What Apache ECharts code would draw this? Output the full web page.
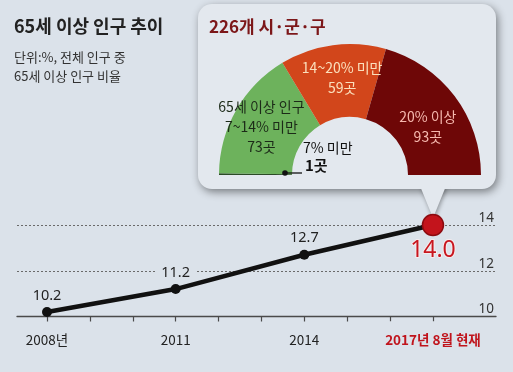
<!DOCTYPE html>
<html><head><meta charset="utf-8">
<script src="https://cdn.jsdelivr.net/npm/echarts@6/dist/echarts.min.js"></script>
<style>html,body{margin:0;padding:0;background:#dbe2ea}#c{width:513px;height:372px}</style>
</head><body><div id="c"></div>
<script>
// ---- data ----
const years = [2008, 2011, 2014, 2017];
const yearLabels = ['2008년', '2011', '2014', '2017년 8월 현재'];
const ratio = [10.2, 11.2, 12.7, 14.0];
const yTicks = [10, 12, 14];
const tickYears = [2008, 2009, 2010, 2011, 2012, 2013, 2014, 2015, 2016, 2017];
const regionNames = ['7% 미만', '65세 이상 인구\n7~14% 미만', '14~20% 미만', '20% 이상'];
const regionCounts = [1, 73, 59, 93];
const regionTitle = '226개 시·군·구';
const titleText = '65세 이상 인구 추이';
const subText = '단위:%, 전체 인구 중\n65세 이상 인구 비율';

// ---- styles ----
const BG = '#dbe2ea';
const BOX = '#e3e8ee';
const FONT = '"Noto Sans CJK KR", "Noto Sans", sans-serif';
const regionColors = ['#2b4a26', '#6db25c', '#d2461b', '#6e0707'];
const regionLabelColors = ['#111', '#1c2a18', '#fbe0bd', '#f6b8ae'];
const regionLabelShift = [[0, 0], [-4, 0], [5, -1], [0, 10]];

const chart = echarts.init(document.getElementById('c'), null, {renderer: 'canvas'});

const lineData = years.map((y, i) => {
  const item = {value: [y, ratio[i]]};
  if (i === years.length - 1) {
    item.symbolSize = 21;
    item.itemStyle = {color: '#c3141c', borderColor: '#8c0a0f', borderWidth: 1.5};
    item.label = {position: 'bottom', distance: 3, fontSize: 23, color: '#c8161e',
      fontFamily: '"Noto Sans", "DejaVu Sans", sans-serif',
      textBorderColor: 'rgba(255,240,240,0.7)', textBorderWidth: 2};
  }
  if (i === 1) {
    item.label = {backgroundColor: BG, padding: [0, 5, 0, 5]};
  }
  return item;
});

const pieData = regionNames.map((n, i) => {
  const it = {name: n, value: regionCounts[i], itemStyle: {color: regionColors[i]},
    label: {color: regionLabelColors[i]}};
  if (i === 0) it.label.show = false;
  return it;
});

const option = {
  backgroundColor: BG,
  animation: false,
  textStyle: {fontFamily: FONT},
  grid: {left: 17, right: 17, top: 225, bottom: 55.5, containLabel: false},
  xAxis: {
    type: 'value', min: 2007.3, max: 2018.47, z: 1.5,
    axisLine: {show: true, lineStyle: {color: '#4a4a4a', width: 1.3}},
    axisTick: {show: true, customValues: tickYears, length: 5, lineStyle: {color: '#4a4a4a', width: 1.2}},
    splitLine: {show: false},
    axisLabel: {
      customValues: years, margin: 5,
      formatter: v => {
        const i = years.indexOf(v);
        return i === years.length - 1 ? '{r|' + yearLabels[i] + '}' : '{p|' + yearLabels[i] + '}';
      },
      rich: {
        p: {fontSize: 13.5, color: '#222', fontFamily: FONT, padding: [12, 0, 10, 0]},
        r: {fontSize: 13.5, color: '#c0141c', fontWeight: 'bold', fontFamily: FONT,
            backgroundColor: BG, padding: [12, 3, 10, 3]}
      }
    }
  },
  yAxis: {
    type: 'value', position: 'right', min: 10, max: 14, interval: 2,
    axisLine: {show: false}, axisTick: {show: false},
    axisLabel: {inside: true, margin: 2, verticalAlign: 'bottom', color: '#333', fontSize: 13.5,
      padding: [0, 0, 0, 0], fontFamily: '"Noto Sans", sans-serif',
      formatter: v => yTicks.includes(v) ? String(v) : ''},
    splitLine: {show: true, lineStyle: {color: '#6a6a6a', type: [2, 2], width: 1}}
  },
  series: [
    {
      type: 'line', data: lineData, clip: false, z: 2,
      symbol: 'circle', symbolSize: 10,
      lineStyle: {color: '#111', width: 4.5},
      itemStyle: {color: '#111'},
      label: {show: true, position: 'top', distance: 4, fontSize: 14.5, color: '#222',
        fontFamily: '"Noto Sans", sans-serif',
        formatter: p => p.value[1].toFixed(1)},
      markLine: {
        silent: true, symbol: 'none', z: 1,
        lineStyle: {color: '#111', type: [2, 2], width: 2},
        label: {show: false},
        data: [[{coord: [years[3], 12.3]}, {coord: [years[3], 7.3]}]]
      }
    },
    {
      type: 'pie', center: [350, 175], radius: [58, 131],
      startAngle: 180, endAngle: 0, clockwise: true,
      avoidLabelOverlap: false, silent: true, z: 3,
      data: pieData,
      label: {
        show: true, position: 'inside', fontSize: 14, lineHeight: 20, fontFamily: FONT,
        overflow: 'none',
        formatter: p => p.name + '\n' + p.value + '곳'
      },
      labelLayout: p => ({hideOverlap: false, dx: regionLabelShift[p.dataIndex][0], dy: regionLabelShift[p.dataIndex][1]}),
      labelLine: {show: false}
    }
  ],
  graphic: [
    {type: 'rect', z: 0, shape: {x: 198, y: 4, width: 298, height: 185, r: 14},
      style: {fill: BOX, shadowColor: 'rgba(0,0,0,0.45)', shadowBlur: 8, shadowOffsetX: 2, shadowOffsetY: 3}},
    {type: 'polygon', z: 1, shape: {points: [[420, 186], [446, 186], [433, 218]]},
      style: {fill: BOX, shadowColor: 'rgba(0,0,0,0.35)', shadowBlur: 4, shadowOffsetX: 1, shadowOffsetY: 2}},
    {type: 'rect', z: 1, shape: {x: 416, y: 180, width: 34, height: 9}, style: {fill: BOX}},
    {type: 'text', z: 5, left: 14, top: 17,
      style: {text: titleText, font: 'bold 18px ' + FONT, fill: '#222'}},
    {type: 'text', z: 5, left: 14, top: 48,
      style: {text: subText, font: '13px ' + FONT, fill: '#333', lineHeight: 19}},
    {type: 'text', z: 5, left: 209, top: 18,
      style: {text: regionTitle, font: 'bold 17px ' + FONT, fill: '#7c1719'}},
    {type: 'text', z: 5, left: 303, top: 141,
      style: {text: regionNames[0], font: '14px ' + FONT, fill: '#111'}},
    {type: 'text', z: 5, left: 305, top: 158,
      style: {text: regionCounts[0] + '곳', font: 'bold 15px ' + FONT, fill: '#111'}},
    {type: 'line', z: 5, shape: {x1: 285, y1: 173, x2: 302, y2: 173}, style: {stroke: '#111', lineWidth: 1.3}},
    {type: 'circle', z: 5, shape: {cx: 285, cy: 173, r: 2.8}, style: {fill: '#111'}}
  ]
};
chart.setOption(option);
</script>
</body></html>
